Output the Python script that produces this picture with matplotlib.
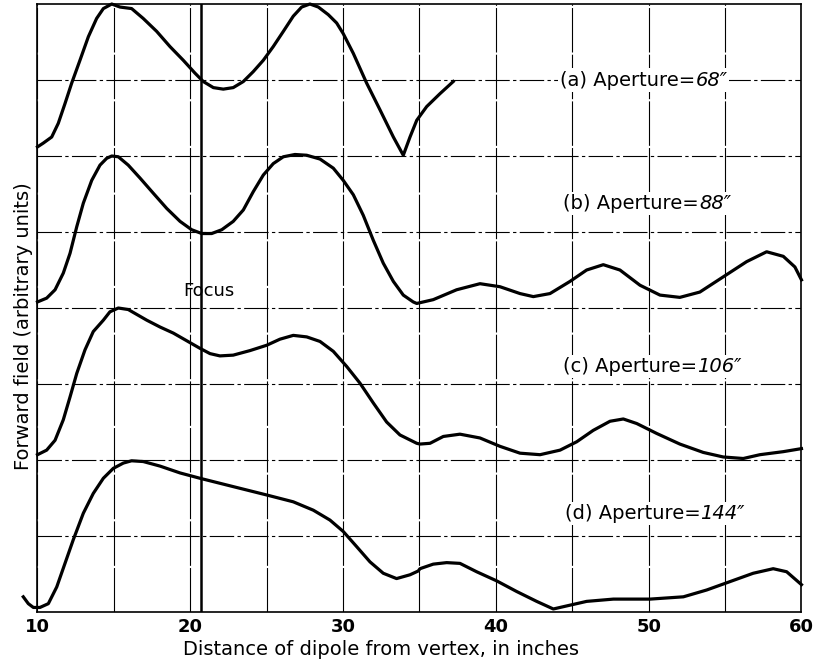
import numpy as np
import matplotlib.pyplot as plt
from matplotlib.offsetbox import TextArea, HPacker, AnnotationBbox

xa = [10, 10.38, 10.93, 11.36, 11.80, 12.24, 12.78, 13.33, 13.87, 14.31, 14.86,
      15.40, 16.16, 16.92, 17.80, 18.67, 19.54, 20.31, 20.85, 21.51, 22.16,
      22.81, 23.47, 24.12, 24.78, 25.43, 26.09, 26.74, 27.29, 27.83, 28.38,
      29.03, 29.58, 30.01, 30.67, 31.54, 32.41, 33.29, 33.94, 34.38, 34.82,
      35.47, 36.34, 37.21]
ya = [6.12, 6.17, 6.25, 6.43, 6.69, 6.96, 7.26, 7.57, 7.81, 7.94, 8.0,
      7.96, 7.94, 7.81, 7.64, 7.44, 7.26, 7.09, 6.98, 6.90, 6.88,
      6.90, 6.98, 7.11, 7.26, 7.44, 7.64, 7.84, 7.96, 8.0, 7.96,
      7.86, 7.75, 7.61, 7.35, 6.96, 6.61, 6.25, 6.01, 6.25, 6.47,
      6.65, 6.82, 6.98]

xb = [10, 10.60, 11.15, 11.69, 12.13, 12.57, 13.00, 13.55, 14.09, 14.53, 14.86,
      15.29, 15.94, 16.71, 17.58, 18.46, 19.33, 20.09, 20.75, 21.40, 22.06,
      22.81, 23.47, 24.12, 24.78, 25.43, 26.09, 26.85, 27.62, 28.49, 29.36,
      30.01, 30.67, 31.32, 31.98, 32.63, 33.29, 33.94, 34.59, 34.82, 35.90,
      37.43, 38.96, 40.27, 41.58, 42.45, 43.54, 44.85, 45.94, 47.03, 48.12,
      49.43, 50.74, 52.04, 53.35, 54.88, 56.41, 57.72, 58.81, 59.57, 60]
yb = [4.08, 4.13, 4.24, 4.46, 4.72, 5.07, 5.38, 5.68, 5.88, 5.97, 6.0,
      5.99, 5.88, 5.71, 5.51, 5.31, 5.14, 5.03, 4.98, 4.98, 5.03,
      5.14, 5.29, 5.53, 5.75, 5.90, 5.99, 6.02, 6.01, 5.96, 5.84,
      5.68, 5.49, 5.22, 4.89, 4.59, 4.35, 4.17, 4.08, 4.06, 4.11,
      4.24, 4.32, 4.28, 4.19, 4.15, 4.19, 4.35, 4.50, 4.57, 4.50,
      4.30, 4.17, 4.14, 4.21, 4.41, 4.61, 4.74, 4.68, 4.54, 4.37]

xc = [10, 10.60, 11.15, 11.69, 12.13, 12.57, 13.11, 13.65, 14.31, 14.74, 15.29,
      15.94, 17.15, 18.02, 18.89, 19.76, 20.63, 21.29, 21.94, 22.81, 23.91,
      25.0, 25.87, 26.74, 27.62, 28.49, 29.36, 30.24, 31.11, 31.98, 32.85,
      33.72, 34.82, 35.03, 35.69, 36.56, 37.65, 38.96, 40.27, 41.58, 42.89,
      44.20, 45.29, 46.37, 47.47, 48.34, 49.22, 50.52, 52.04, 53.57, 54.88,
      56.19, 57.28, 58.81, 60]
yc = [2.07, 2.13, 2.26, 2.53, 2.83, 3.14, 3.45, 3.69, 3.84, 3.95, 4.0,
      3.98, 3.84, 3.75, 3.67, 3.57, 3.47, 3.40, 3.37, 3.38, 3.44,
      3.51, 3.59, 3.64, 3.62, 3.56, 3.43, 3.23, 3.01, 2.75, 2.50,
      2.33, 2.22, 2.21, 2.22, 2.31, 2.34, 2.29, 2.18, 2.09, 2.07,
      2.13, 2.24, 2.39, 2.51, 2.54, 2.48, 2.35, 2.21, 2.10, 2.04,
      2.02, 2.07, 2.11, 2.15]

xd = [9.07, 9.40, 9.73, 10.16, 10.71, 11.26, 11.80, 12.34, 13.00, 13.65, 14.31,
      14.96, 15.62, 16.16, 16.92, 18.02, 19.33, 20.63, 22.81, 25.0, 26.74,
      28.05, 29.14, 30.01, 30.89, 31.76, 32.63, 33.50, 34.38, 34.92, 35.03,
      35.90, 36.78, 37.65, 38.74, 40.05, 41.36, 42.67, 43.76, 44.63, 45.94,
      47.69, 50.09, 52.27, 53.80, 55.32, 56.84, 58.15, 59.03, 60]
yd = [0.20, 0.11, 0.06, 0.06, 0.11, 0.33, 0.64, 0.95, 1.30, 1.56, 1.76,
      1.89, 1.96, 1.99, 1.98, 1.92, 1.83, 1.76, 1.65, 1.54, 1.45,
      1.34, 1.21, 1.06, 0.86, 0.66, 0.51, 0.44, 0.49, 0.54, 0.57,
      0.63, 0.65, 0.64, 0.53, 0.41, 0.27, 0.14, 0.04, 0.08, 0.14,
      0.17, 0.17, 0.20, 0.29, 0.40, 0.51, 0.57, 0.53, 0.36]

label_prefix = ['(a) Aperture=', '(b) Aperture=', '(c) Aperture=', '(d) Aperture=']
label_num = ['68″', '88″', '106″', '144″']
label_x = [44.2, 44.4, 44.4, 44.5]
label_y = [7.0, 5.38, 3.23, 1.30]
focus_x = 20.7

fig = plt.figure(figsize=(8.15, 6.68), dpi=100)
ax = fig.add_axes([0.046, 0.0838, 0.9374, 0.9102])

for x, y in [(xa, ya), (xb, yb), (xc, yc), (xd, yd)]:
    ax.plot(x, y, color='black', linewidth=2.3, clip_on=False, zorder=3,
            solid_joinstyle='round')

ax.axvline(focus_x, color='black', linewidth=1.8, zorder=2)
ax.text(focus_x + 0.5, 4.22, 'Focus', fontsize=13, ha='center', va='center')

for pre, num, lx, ly in zip(label_prefix, label_num, label_x, label_y):
    box = HPacker(children=[TextArea(pre, textprops=dict(fontsize=14)),
                            TextArea(num, textprops=dict(fontsize=14, style='italic'))],
                  align='baseline', pad=0, sep=0)
    ab = AnnotationBbox(box, (lx, ly), xycoords='data', box_alignment=(0, 0.5),
                        frameon=True, pad=0.15, zorder=4,
                        bboxprops=dict(facecolor='white', edgecolor='none'))
    ax.add_artist(ab)

ax.set_xlim(10, 60)
ax.set_ylim(0, 8)
ax.set_xticks(np.arange(10, 61, 10))
ax.set_xticks(np.arange(15, 60, 10), minor=True)
ax.set_yticks(np.arange(1, 8))
ax.set_yticklabels([])
ax.tick_params(axis='both', which='both', length=0)
ax.tick_params(axis='x', labelsize=13, pad=4)
for t in ax.get_xticklabels():
    t.set_fontweight('bold')

ax.grid(axis='x', which='both', color='black', linewidth=0.8,
        linestyle=(0, (40, 2)))
ax.grid(axis='y', which='major', color='black', linewidth=0.8,
        linestyle=(0, (22, 3, 3, 3)))
for s in ax.spines.values():
    s.set_linewidth(1.2)

ax.set_xlabel('Distance of dipole from vertex, in inches', fontsize=14)
ax.xaxis.set_label_coords(0.45, -0.046)
ax.set_ylabel('Forward field (arbitrary units)', fontsize=14)
ax.yaxis.set_label_coords(-0.006, 0.47)

fig.savefig('out.png', dpi=100)
